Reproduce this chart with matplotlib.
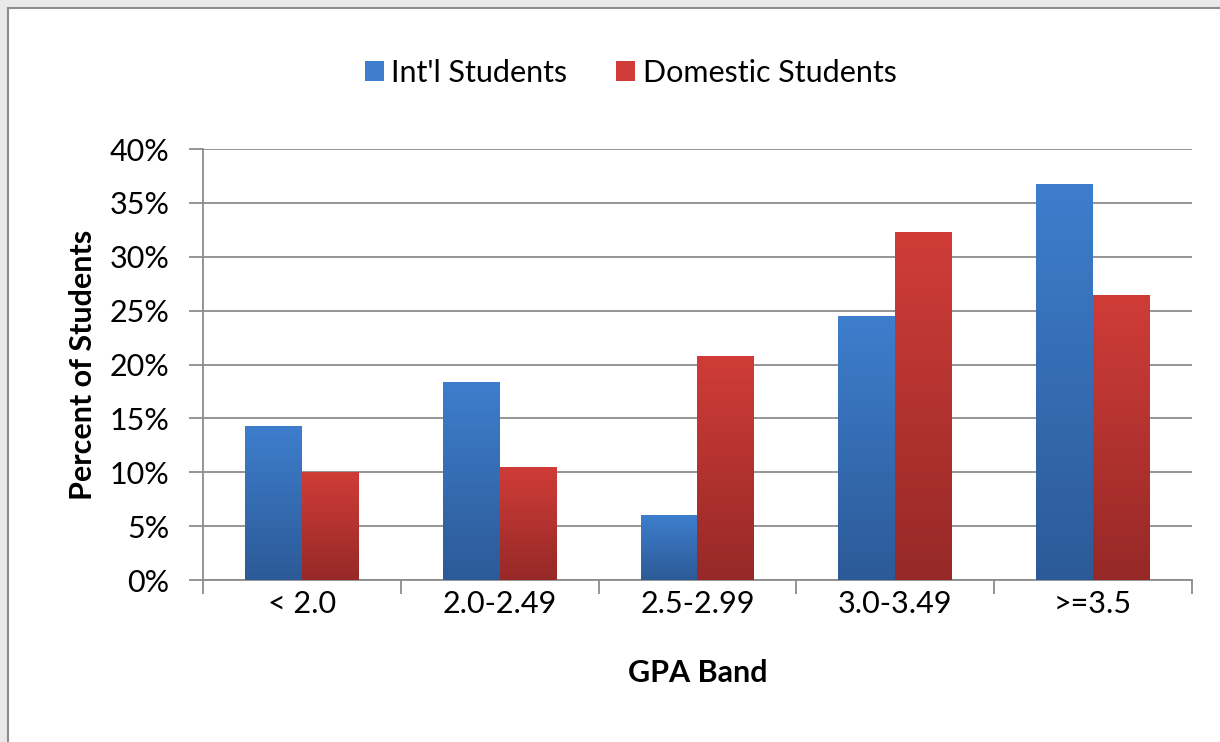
import numpy as np
import matplotlib.pyplot as plt
from matplotlib.patches import Rectangle
from matplotlib.colors import LinearSegmentedColormap

plt.rcParams['font.family'] = ['Lato', 'DejaVu Sans']

# GPA bands and percentages
bands = ['< 2.0', '2.0-2.49', '2.5-2.99', '3.0-3.49', '>=3.5']
intl = [14.3, 18.4, 6.0, 24.5, 36.8]
domestic = [10.0, 10.5, 20.8, 32.3, 26.5]
series_names = ["Int'l Students", 'Domestic Students']

blue_top, blue_bot = '#3E7ECD', '#2C5A97'
red_top, red_bot = '#D03C38', '#962927'
fs = 22

fig = plt.figure(figsize=(12.2, 7.42), dpi=100)
fig.patch.set_facecolor('#E9E9E9')
# white chart panel with grey border
fig.patches.append(Rectangle((8 / 1220, -0.05), 1.1, 1.05 - 8 / 742,
                             transform=fig.transFigure, facecolor='white',
                             edgecolor='#8C8C8C', linewidth=1.5, zorder=-10))

ax = fig.add_axes([0.1664, 0.2183, 0.8106, 0.5808])
ax.set_facecolor('none')

x = np.arange(len(bands))
w = 0.288
bars1 = ax.bar(x - w / 2, intl, w, color=blue_top, label=series_names[0], zorder=3)
bars2 = ax.bar(x + w / 2, domestic, w, color=red_top, label=series_names[1], zorder=3)


# vertical gradient fill for each bar
def shade(bars, top, bot):
    cmap = LinearSegmentedColormap.from_list('g', [bot, top])
    grad = np.linspace(0, 1, 256).reshape(-1, 1)
    for b in bars:
        x0, y0 = b.get_x(), b.get_y()
        x1, y1 = x0 + b.get_width(), y0 + b.get_height()
        im = ax.imshow(grad, cmap=cmap, extent=[x0, x1, y0, y1], origin='lower',
                       aspect='auto', zorder=4)
        im.set_clip_path(b)
        b.set_facecolor('none')


shade(bars1, blue_top, blue_bot)
shade(bars2, red_top, red_bot)

ax.set_xlim(-0.5, len(bands) - 0.5)
ax.set_ylim(0, 40)
ax.set_yticks(np.arange(0, 41, 5))
ax.set_yticklabels([f'{v}%' for v in range(0, 41, 5)], fontsize=fs)
ax.set_xticks(x)
ax.set_xticklabels(bands, fontsize=fs)
ax.set_xticks(np.arange(-0.5, len(bands)), minor=True)
ax.tick_params(axis='x', which='major', length=0, pad=7)
ax.tick_params(axis='x', which='minor', length=10, width=1.3, color='#8C8C8C')
ax.tick_params(axis='y', length=10, width=1.3, color='#8C8C8C', pad=14)
ax.yaxis.grid(True, color='#8C8C8C', linewidth=1.3, zorder=0)
ax.set_axisbelow(True)

for s in ['top', 'right']:
    ax.spines[s].set_visible(False)
for s in ['left', 'bottom']:
    ax.spines[s].set_color('#8C8C8C')
    ax.spines[s].set_linewidth(1.3)

ax.set_ylabel('Percent of Students', fontsize=fs, fontweight='bold', labelpad=9)
ax.set_xlabel('GPA Band', fontsize=fs, fontweight='bold', labelpad=30)

leg = fig.legend(handles=[bars1[0], bars2[0]], labels=series_names, loc='center',
                 bbox_to_anchor=(0.517, 0.902), ncol=2, frameon=False, fontsize=fs,
                 handlelength=0.62, handleheight=0.62, handletextpad=0.25,
                 columnspacing=1.6)
for h, c in zip(leg.legend_handles, [blue_top, red_top]):
    h.set_facecolor(c)

fig.savefig('out.png', dpi=100, facecolor=fig.get_facecolor())
